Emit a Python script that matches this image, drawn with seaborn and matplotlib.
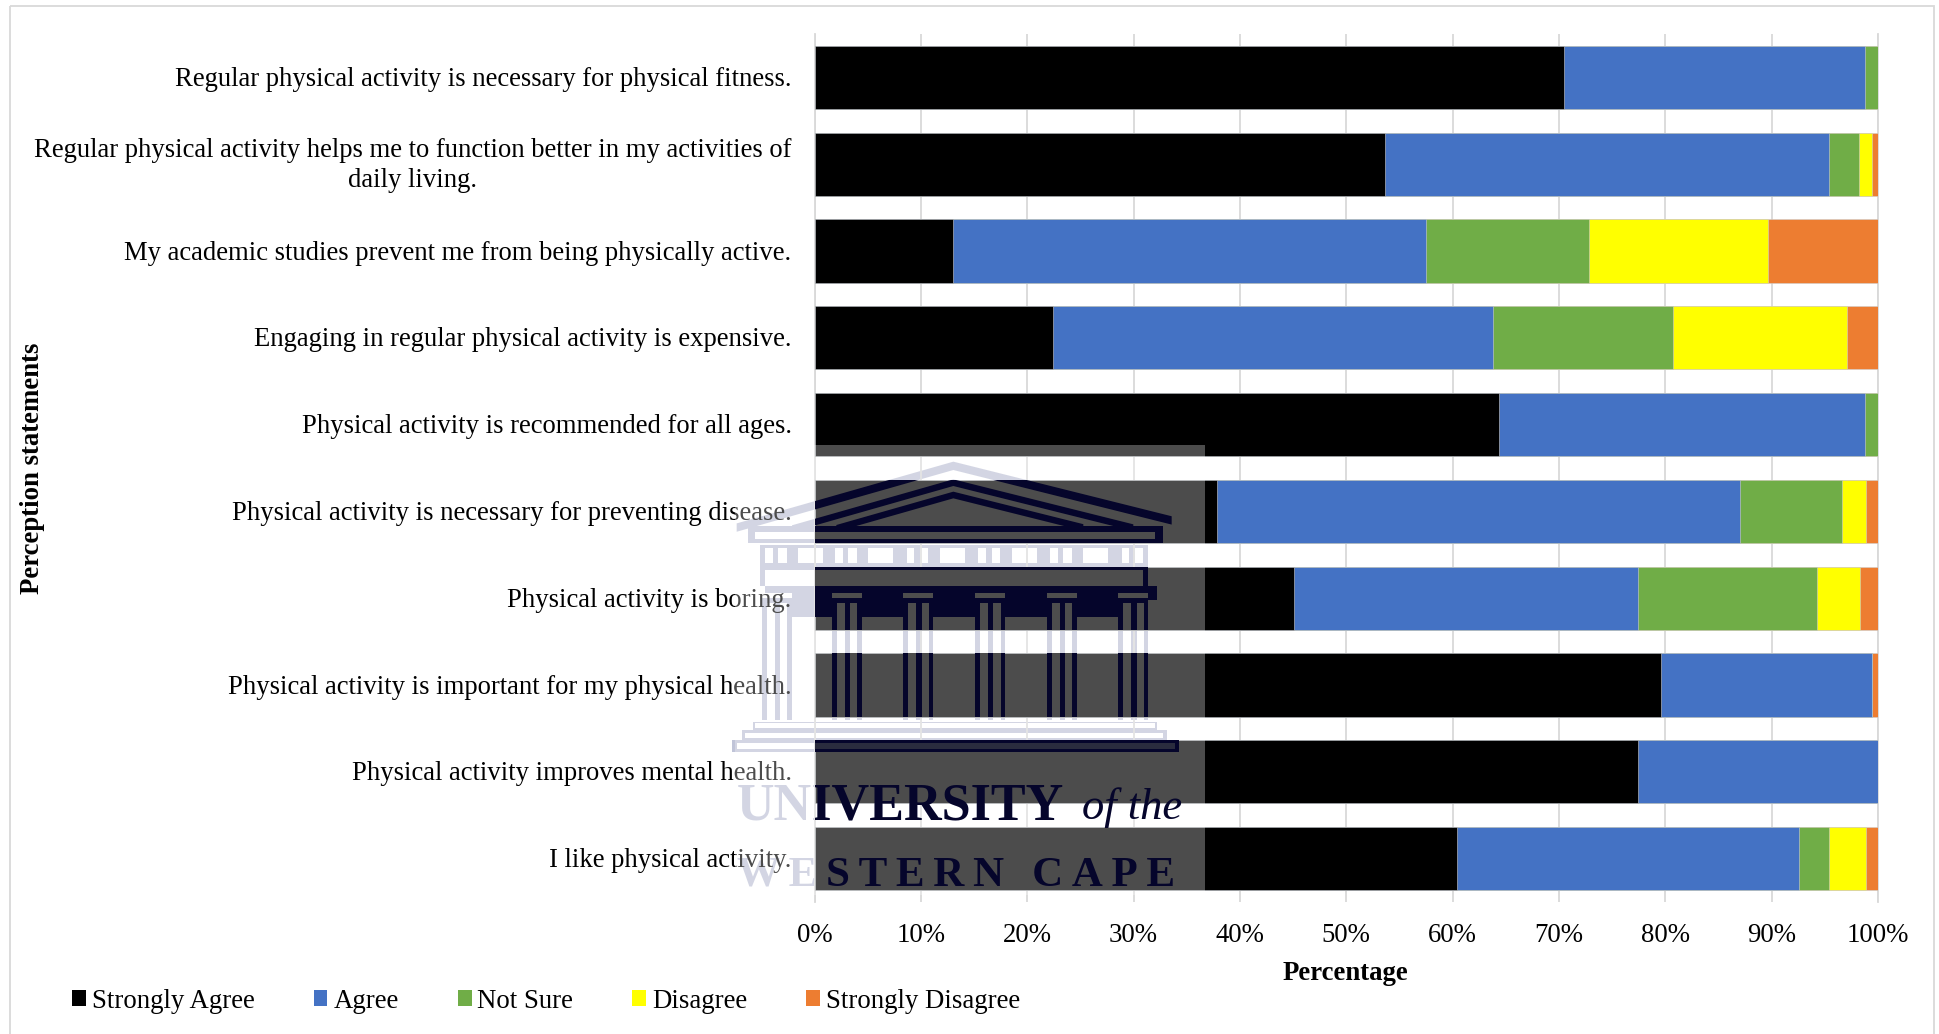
import matplotlib
matplotlib.use("Agg")
import matplotlib.pyplot as plt
import numpy as np
import seaborn as sns
from matplotlib.patches import Patch, Polygon, Rectangle, PathPatch
from matplotlib.path import Path
from matplotlib.transforms import Affine2D, ScaledTranslation

statements = [
    "Regular physical activity is necessary for physical fitness.",
    "Regular physical activity helps me to function better in my activities of\ndaily living.",
    "My academic studies prevent me from being physically active.",
    "Engaging in regular physical activity is expensive.",
    "Physical activity is recommended for all ages.",
    "Physical activity is necessary for preventing disease.",
    "Physical activity is boring.",
    "Physical activity is important for my physical health.",
    "Physical activity improves mental health.",
    "I like physical activity.",
]
strongly_agree = [70.5, 53.6, 13.0, 22.4, 64.4, 37.8, 45.1, 79.6, 77.4, 60.4]
agree = [28.3, 41.8, 44.5, 41.4, 34.4, 49.2, 32.3, 19.8, 22.6, 32.2]
not_sure = [1.2, 2.8, 15.3, 16.9, 1.2, 9.6, 16.9, 0.0, 0.0, 2.8]
disagree = [0.0, 1.2, 16.9, 16.4, 0.0, 2.3, 4.0, 0.0, 0.0, 3.5]
strongly_disagree = [0.0, 0.6, 10.3, 2.9, 0.0, 1.1, 1.7, 0.6, 0.0, 1.1]

series_names = ["Strongly Agree", "Agree", "Not Sure", "Disagree", "Strongly Disagree"]
series_colors = ["#000000", "#4472C4", "#70AD47", "#FFFF00", "#ED7D31"]
x_ticks = [0, 10, 20, 30, 40, 50, 60, 70, 80, 90, 100]

W, H = 1939, 1034
SERIF = ["Liberation Serif", "DejaVu Serif"]
TEXT_SIZE = 19.3

sns.set_theme(style="white")
plt.rcParams["font.family"] = SERIF

fig = plt.figure(figsize=(W / 100, H / 100), dpi=100, facecolor="white")
ax = fig.add_axes([814.5 / W, 1 - 902 / H, (1878 - 814.5) / W, (902 - 34) / H])

# Stacked bars: cumulative totals, longest drawn first so each shorter one sits on top.
stack = np.cumsum([strongly_agree, agree, not_sure, disagree, strongly_disagree], axis=0)
for totals, color in zip(stack[::-1], series_colors[::-1]):
    sns.barplot(x=totals, y=statements, color=color, saturation=1, width=0.73,
                orient="y", ax=ax, edgecolor="#cfcfcf", linewidth=0.4)

ax.set_xlim(0, 100)
ax.set_ylim(9.5, -0.5)
ax.set_axisbelow(True)
ax.grid(axis="x", color="#d9d9d9", lw=1.3)
ax.grid(axis="y", visible=False)
for name, side in ax.spines.items():
    side.set_visible(name in ("left", "right"))
    side.set_color("#d9d9d9")
    side.set_linewidth(1.3)
    side.set_zorder(0.6)
ax.set_xticks(x_ticks)
ax.set_xticklabels([f"{t}%" for t in x_ticks])
ax.tick_params(axis="x", length=0, pad=15, labelsize=TEXT_SIZE, labelcolor="black")
ax.tick_params(axis="y", length=0, pad=16.5, labelsize=19.2, labelcolor="black")
for lab in ax.get_yticklabels():
    lab.set_multialignment("center")
    lab.set_linespacing(1.28)
    # Nudge the statements up a little; the two-line one needs a bit more.
    lift = 4.5 if "\n" in lab.get_text() else 1.0
    lab.set_transform(lab.get_transform()
                      + ScaledTranslation(0, lift / 100, fig.dpi_scale_trans))

fig.text(1345 / W, 1 - 973 / H, "Percentage", ha="center", va="center",
         fontsize=TEXT_SIZE, fontweight="bold", color="black")
fig.text(33 / W, 1 - 468 / H, "Perception statements", rotation=90, ha="center",
         va="center", fontsize=TEXT_SIZE, fontweight="bold", color="black")

handles = [Patch(facecolor=c, edgecolor="none", label=n)
           for n, c in zip(series_names, series_colors)]
fig.legend(handles=handles, loc="center left", bbox_to_anchor=(72 / W, 1 - 1001 / H),
           ncol=5, frameon=False, fontsize=TEXT_SIZE, handlelength=0.52, handleheight=0.52,
           handletextpad=0.22, columnspacing=2.2, borderpad=0, borderaxespad=0,
           labelcolor="black")

# Thin frame round the whole chart area, open at the bottom edge.
frame_tf = Affine2D().scale(1, -1).translate(0, H)
ax.add_patch(Rectangle((9.5, 5.5), 1924.5, 1100, transform=frame_tf, fill=False,
                       edgecolor="#d9d9d9", lw=1.3, clip_on=False, zorder=0.3))

# University crest stamped across the lower left of the page.
crest_tf = Affine2D().scale(1 / 3, -1 / 3).translate(720, H - 420)
LAVENDER, NAVY, VEIL_GREY = "#c0c4d8", "#05052b", "#4d4d4d"
columns = [170, 380, 595, 810, 1025, 1240]

row_boxes = []
for row in range(5, 10):
    top, bottom = row - 0.365, row + 0.365
    row_boxes.extend([(0, top), (36.75, top), (36.75, bottom), (0, bottom), (0, top)])
codes = [Path.MOVETO, Path.LINETO, Path.LINETO, Path.LINETO, Path.CLOSEPOLY] * 5
bars_clip = PathPatch(Path(row_boxes, codes), transform=ax.transData)


def draw_crest(ink, hole, base_fill, zorder, clip):
    def add(patch):
        patch.set_transform(crest_tf)
        patch.set_zorder(zorder)
        patch.set_linewidth(0)
        ax.add_patch(patch)
        if clip:
            patch.set_clip_path(bars_clip)
        else:
            patch.set_clip_on(False)

    def box(x0, y0, x1, y1, color):
        add(Rectangle((x0, y0), x1 - x0, y1 - y0, facecolor=color))

    def chevron(top, bottom, x0, x1):
        ya, yb = 0.285 * (700 - x0), 0.25 * (x1 - 700)
        add(Polygon([(x0, top + ya), (700, top), (x1, top + yb),
                     (x1, bottom + yb), (700, bottom), (x0, bottom + ya)],
                    closed=True, facecolor=ink))

    # pediment
    chevron(125, 150, 50, 1355)
    chevron(178, 198, 216, 1240)
    chevron(215, 235, 349, 1090)
    box(85, 318, 1330, 368, ink)
    box(105, 335, 1305, 358, hole)
    # frieze with its triglyphs
    box(120, 375, 1285, 437, ink)
    for c in columns:
        box(c - 35, 383, c - 12, 430, hole)
        box(c + 5, 383, c + 30, 430, hole)
        if c != columns[-1]:
            box(c + 65, 383, c + 140, 430, hole)
    # architrave
    box(120, 438, 1285, 498, ink)
    box(135, 450, 1270, 498, hole)
    box(135, 498, 1285, 590, ink)
    box(1190, 498, 1310, 540, ink)
    # columns
    for c in columns:
        box(c - 45, 518, c + 45, 535, hole)
        box(c - 45, 535, c + 45, 900, ink)
        box(c - 30, 548, c - 6, 900, hole)
        box(c + 10, 548, c + 32, 900, hole)
    # stepped plinth
    box(100, 905, 1310, 930, ink)
    box(105, 910, 1305, 925, hole)
    box(65, 930, 1340, 960, ink)
    box(75, 938, 1330, 955, hole)
    box(35, 960, 1378, 995, ink)
    box(50, 968, 1365, 988, base_fill)
    # wordmark
    for x, y, txt, size, weight, style in [
        (50, 1197, "UNIVERSITY", 37.5, "bold", "normal"),
        (1085, 1197, "of the", 32, "normal", "italic"),
        (50, 1397, "\u2009".join("WESTERN") + "\u2009 \u2009" + "\u2009".join("CAPE"),
         31, "bold", "normal"),
    ]:
        t = ax.text(x, y, txt, transform=crest_tf, color=ink, fontsize=size,
                    fontweight=weight, fontstyle=style, va="baseline", ha="left",
                    zorder=zorder, family=SERIF)
        if clip:
            t.set_clip_on(True)
            t.set_clip_path(bars_clip)
        else:
            t.set_clip_on(False)


draw_crest(LAVENDER, "white", "white", 0.4, clip=False)
veil_tf = Affine2D().scale(1, -1).translate(0, H)
ax.add_patch(Rectangle((735, 445), 470, 450, transform=veil_tf, facecolor="white",
                       alpha=0.3, linewidth=0, clip_on=False, zorder=2))
draw_crest(NAVY, VEIL_GREY, "#2a2c3e", 3, clip=True)

fig.savefig("out.png", dpi=100)
